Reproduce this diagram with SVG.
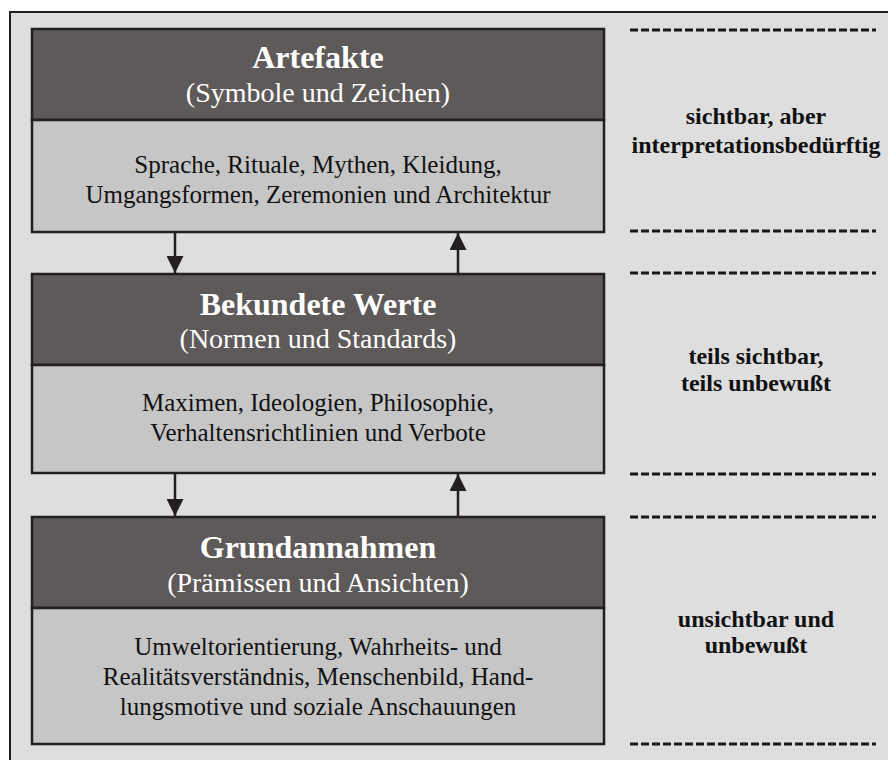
<svg xmlns="http://www.w3.org/2000/svg" width="888" height="760" viewBox="0 0 888 760">
  <style>
    .frame { fill: #dedede; stroke: #231f20; stroke-width: 2; }
    .head { fill: #5e5a59; stroke: #231f20; stroke-width: 2.5; }
    .body { fill: #c6c6c6; stroke: #231f20; stroke-width: 2.5; }
    .title { font-family: "Liberation Serif", "Times New Roman", serif; font-weight: bold; font-size: 32px; fill: #ffffff; text-anchor: middle; }
    .sub { font-family: "Liberation Serif", "Times New Roman", serif; font-size: 28px; fill: #ffffff; text-anchor: middle; }
    .txt { font-family: "Liberation Serif", "Times New Roman", serif; font-size: 25px; fill: #111111; text-anchor: middle; }
    .side { font-family: "Liberation Serif", "Times New Roman", serif; font-weight: bold; font-size: 24px; fill: #111111; text-anchor: middle; }
    .dash { stroke: #1a1718; stroke-width: 3; stroke-dasharray: 8 3; fill: none; }
    .arrow { stroke: #231f20; stroke-width: 2.5; fill: none; }
  </style>
  <defs>
    <marker id="head" viewBox="0 0 10 10" refX="10" refY="5" markerWidth="17" markerHeight="17" markerUnits="userSpaceOnUse" orient="auto">
      <path d="M0,0 L10,5 L0,10 Z" fill="#231f20"/>
    </marker>
  </defs>

  <rect class="frame" x="10" y="12" width="900" height="770"/>

  <g id="artefakte">
    <rect class="head" x="32" y="29" width="572" height="91"/>
    <rect class="body" x="32" y="120" width="572" height="112"/>
    <text class="title" x="318" y="68">Artefakte</text>
    <text class="sub" x="318" y="102">(Symbole und Zeichen)</text>
    <text class="txt" x="318" y="173">Sprache, Rituale, Mythen, Kleidung,</text>
    <text class="txt" x="318" y="203">Umgangsformen, Zeremonien und Architektur</text>
  </g>

  <g id="werte">
    <rect class="head" x="32" y="274" width="572" height="91"/>
    <rect class="body" x="32" y="365" width="572" height="108"/>
    <text class="title" x="318" y="315">Bekundete Werte</text>
    <text class="sub" x="318" y="348">(Normen und Standards)</text>
    <text class="txt" x="318" y="411">Maximen, Ideologien, Philosophie,</text>
    <text class="txt" x="318" y="441">Verhaltensrichtlinien und Verbote</text>
  </g>

  <g id="grundannahmen">
    <rect class="head" x="32" y="517" width="572" height="91"/>
    <rect class="body" x="32" y="608" width="572" height="136"/>
    <text class="title" x="318" y="558">Grundannahmen</text>
    <text class="sub" x="318" y="592">(Prämissen und Ansichten)</text>
    <text class="txt" x="318" y="655">Umweltorientierung, Wahrheits- und</text>
    <text class="txt" x="318" y="685">Realitätsverständnis, Menschenbild, Hand-</text>
    <text class="txt" x="318" y="715">lungsmotive und soziale Anschauungen</text>
  </g>

  <g id="connectors">
    <line class="arrow" x1="175" y1="233" x2="175" y2="273" marker-end="url(#head)"/>
    <line class="arrow" x1="458" y1="273" x2="458" y2="233" marker-end="url(#head)"/>
    <line class="arrow" x1="175" y1="474" x2="175" y2="516" marker-end="url(#head)"/>
    <line class="arrow" x1="458" y1="516" x2="458" y2="474" marker-end="url(#head)"/>
  </g>

  <g id="ebenen">
    <line class="dash" x1="630" y1="30" x2="876" y2="30"/>
    <line class="dash" x1="630" y1="231" x2="876" y2="231"/>
    <line class="dash" x1="630" y1="273" x2="876" y2="273"/>
    <line class="dash" x1="630" y1="474" x2="876" y2="474"/>
    <line class="dash" x1="630" y1="517" x2="876" y2="517"/>
    <line class="dash" x1="630" y1="744" x2="876" y2="744"/>
    <text class="side" x="756" y="124">sichtbar, aber</text>
    <text class="side" x="756" y="153">interpretationsbedürftig</text>
    <text class="side" x="756" y="364">teils sichtbar,</text>
    <text class="side" x="756" y="391">teils unbewußt</text>
    <text class="side" x="756" y="627">unsichtbar und</text>
    <text class="side" x="756" y="653">unbewußt</text>
  </g>
</svg>
